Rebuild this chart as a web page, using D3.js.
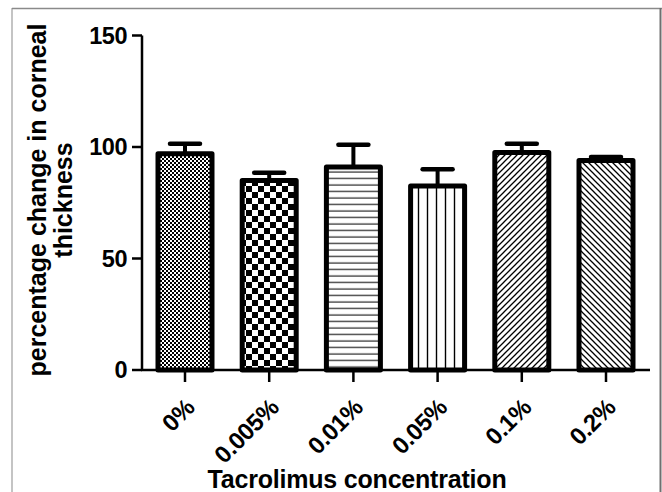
<!DOCTYPE html>
<html>
<head>
<meta charset="utf-8">
<script src="https://cdn.jsdelivr.net/npm/d3@7"></script>
<style>
  html, body { margin: 0; padding: 0; background: #fff; }
  svg { display: block; font-family: "Liberation Sans", Arial, sans-serif; font-weight: bold; }
</style>
</head>
<body>
<div id="chart"></div>
<script>
// ── Data ─────────────────────────────────────────────────────
const categories = ["0%", "0.005%", "0.01%", "0.05%", "0.1%", "0.2%"];
const means      = [97, 85, 91, 82.5, 97.5, 94];
const errors     = [4.5, 3.5, 10, 7.5, 4, 1.5];
const yTicks     = [0, 50, 100, 150];

const W = 662, H = 492;

const svg = d3.select("#chart").append("svg")
  .attr("width", W).attr("height", H);

// ── Fill patterns (one per bar) ──────────────────────────────
const defs = svg.append("defs");

function pattern(id, size) {
  return defs.append("pattern")
    .attr("id", id)
    .attr("patternUnits", "userSpaceOnUse")
    .attr("width", size).attr("height", size);
}

// fine checker
let p = pattern("p0", 4);
p.append("rect").attr("width", 4).attr("height", 4).attr("fill", "#fff");
p.append("rect").attr("width", 2).attr("height", 2).attr("fill", "#000");
p.append("rect").attr("x", 2).attr("y", 2).attr("width", 2).attr("height", 2).attr("fill", "#000");

// coarse checker
p = pattern("p1", 12);
p.append("rect").attr("width", 12).attr("height", 12).attr("fill", "#fff");
p.append("rect").attr("width", 6).attr("height", 6).attr("fill", "#000");
p.append("rect").attr("x", 6).attr("y", 6).attr("width", 6).attr("height", 6).attr("fill", "#000");

// horizontal lines
p = pattern("p2", 6.5);
p.append("rect").attr("width", 6.5).attr("height", 6.5).attr("fill", "#fff");
p.append("line").attr("x1", 0).attr("x2", 6.5).attr("y1", 3).attr("y2", 3)
  .attr("stroke", "#222").attr("stroke-width", 1.2);

// vertical lines
p = pattern("p3", 9);
p.append("rect").attr("width", 9).attr("height", 9).attr("fill", "#fff");
p.append("line").attr("x1", 4.5).attr("x2", 4.5).attr("y1", 0).attr("y2", 9)
  .attr("stroke", "#000").attr("stroke-width", 1.4);

// forward diagonal  /
p = pattern("p4", 6);
p.append("rect").attr("width", 6).attr("height", 6).attr("fill", "#fff");
p.append("path").attr("d", "M-1,1 L1,-1 M0,6 L6,0 M5,7 L7,5")
  .attr("stroke", "#000").attr("stroke-width", 1.3);

// back diagonal  \
p = pattern("p5", 6);
p.append("rect").attr("width", 6).attr("height", 6).attr("fill", "#fff");
p.append("path").attr("d", "M-1,5 L1,7 M0,0 L6,6 M5,-1 L7,1")
  .attr("stroke", "#000").attr("stroke-width", 1.3);

const fills = ["p0", "p1", "p2", "p3", "p4", "p5"];

// ── Frame around the figure ─────────────────────────────────
svg.append("line").attr("x1", 12).attr("x2", 12).attr("y1", 8).attr("y2", H)
  .attr("stroke", "#c4c4c4").attr("stroke-width", 2);
svg.append("line").attr("x1", 12).attr("x2", 662).attr("y1", 8.5).attr("y2", 8.5)
  .attr("stroke", "#8a8a8a").attr("stroke-width", 1.5);
svg.append("line").attr("x1", 660.5).attr("x2", 660.5).attr("y1", 8).attr("y2", H)
  .attr("stroke", "#707070").attr("stroke-width", 2);

// ── Scales ───────────────────────────────────────────────────
const x = d3.scalePoint().domain(categories).range([185, 606]);
const y = d3.scaleLinear().domain([0, 150]).range([370, 35.5]);
const barW = 54;
const axisLeft = 142, axisRight = 650;

// ── Error bars ───────────────────────────────────────────────
const eb = svg.append("g");
categories.forEach((c, i) => {
  const cx = x(c);
  eb.append("line")
    .attr("x1", cx).attr("x2", cx)
    .attr("y1", y(means[i])).attr("y2", y(means[i] + errors[i]))
    .attr("stroke", "#000").attr("stroke-width", 4);
  eb.append("line")
    .attr("x1", cx - 15).attr("x2", cx + 15)
    .attr("y1", y(means[i] + errors[i])).attr("y2", y(means[i] + errors[i]))
    .attr("stroke", "#000").attr("stroke-width", 4.5)
    .attr("stroke-linecap", "round");
});

// ── Bars ─────────────────────────────────────────────────────
svg.append("g").selectAll("rect")
  .data(categories)
  .enter().append("rect")
  .attr("x", d => x(d) - barW / 2)
  .attr("width", barW)
  .attr("y", (d, i) => y(means[i]))
  .attr("height", (d, i) => y(0) - y(means[i]))
  .attr("fill", (d, i) => `url(#${fills[i]})`)
  .attr("stroke", "#000")
  .attr("stroke-width", 5)
  .attr("stroke-linejoin", "round");

// ── Axes ─────────────────────────────────────────────────────
const ax = svg.append("g").attr("stroke", "#000").attr("stroke-width", 2.5);

ax.append("line").attr("x1", axisLeft).attr("x2", axisLeft)
  .attr("y1", y(150)).attr("y2", y(0));
ax.selectAll(".yt").data(yTicks).enter().append("line")
  .attr("x1", axisLeft - 10).attr("x2", axisLeft)
  .attr("y1", d => y(d)).attr("y2", d => y(d));

ax.append("line").attr("x1", axisLeft - 1).attr("x2", axisRight)
  .attr("y1", y(0)).attr("y2", y(0));
ax.selectAll(".xt").data(categories).enter().append("line")
  .attr("x1", d => x(d)).attr("x2", d => x(d))
  .attr("y1", y(0)).attr("y2", y(0) + 12);

// y tick labels
svg.selectAll(".ytl").data(yTicks).enter().append("text")
  .attr("x", 127).attr("y", d => y(d))
  .attr("dy", "0.36em")
  .attr("text-anchor", "end")
  .attr("font-size", 23.5)
  .attr("letter-spacing", -0.5)
  .text(d => d);

// x tick labels (rotated)
svg.selectAll(".xtl").data(categories).enter().append("text")
  .attr("text-anchor", "end")
  .attr("font-size", 24)
  .attr("letter-spacing", -0.4)
  .attr("transform", d => `translate(${x(d) + 11},${409}) rotate(-45)`)
  .text(d => d);

// axis titles
svg.append("text")
  .attr("x", 357).attr("y", 488)
  .attr("text-anchor", "middle")
  .attr("font-size", 25)
  .attr("letter-spacing", -0.2)
  .text("Tacrolimus concentration");

const yTitle = svg.append("text")
  .attr("text-anchor", "middle")
  .attr("font-size", 25)
  .attr("transform", "translate(0,200) rotate(-90)");
yTitle.append("tspan").attr("x", 0).attr("y", 46).text("percentage change in corneal");
yTitle.append("tspan").attr("x", 0).attr("y", 72).text("thickness");
</script>
</body>
</html>
